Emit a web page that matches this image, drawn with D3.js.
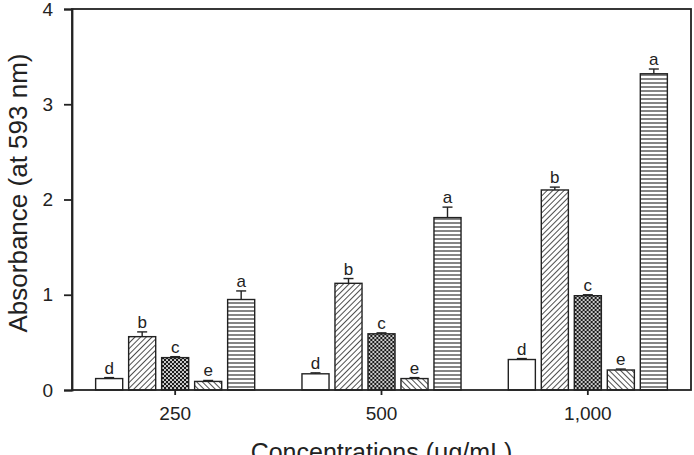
<!DOCTYPE html>
<html lang="en">
<head>
    <meta charset="UTF-8">
    <title>Absorbance</title>
    <script src="https://d3js.org/d3.v7.min.js"></script>
    <style>
        body { margin: 0; padding: 0; background: white; }
        svg { display: block; font-family: 'Liberation Sans', Arial, sans-serif; }
        .axis text { font-size: 19px; fill: #222; }
        .axis path, .axis line { stroke: #222; stroke-width: 1.8; }
        .title { font-size: 25px; fill: #222; }
        .letter { font-size: 17px; fill: #222; }
    </style>
</head>
<body>
    <svg width="694" height="455"></svg>
    <script>
        const concentrations = ["250", "500", "1,000"];
        const series = ["s1", "s2", "s3", "s4", "s5"];
        const values = [
            [0.12, 0.56, 0.34, 0.09, 0.95],
            [0.17, 1.12, 0.59, 0.12, 1.81],
            [0.32, 2.10, 0.99, 0.21, 3.32]
        ];
        const errors = [
            [0.01, 0.05, 0.01, 0.01, 0.09],
            [0.01, 0.05, 0.01, 0.01, 0.11],
            [0.01, 0.03, 0.01, 0.01, 0.05]
        ];
        const letters = [
            ["d", "b", "c", "e", "a"],
            ["d", "b", "c", "e", "a"],
            ["d", "b", "c", "e", "a"]
        ];
        const yTicks = [0, 1, 2, 3, 4];

        const svg = d3.select("svg");
        const margin = { left: 72, top: 9, right: 3, bottom: 65 };
        const width = +svg.attr("width");
        const height = +svg.attr("height");
        const plotW = width - margin.left - margin.right;
        const plotH = height - margin.top - margin.bottom;

        const x = d3.scaleBand().domain(concentrations).range([0, plotW]);
        const xInner = d3.scaleBand().domain(series)
            .range([x.bandwidth() / 2 - 82.5, x.bandwidth() / 2 + 82.5])
            .paddingInner(0.18).paddingOuter(0.09);
        const y = d3.scaleLinear().domain([0, 4]).range([plotH, 0]);

        // fill patterns
        const defs = svg.append("defs");
        const diag = defs.append("pattern").attr("id", "p-fwd")
            .attr("patternUnits", "userSpaceOnUse").attr("width", 4).attr("height", 4)
            .attr("patternTransform", "rotate(45)");
        diag.append("rect").attr("width", 4).attr("height", 4).attr("fill", "white");
        diag.append("line").attr("x1", 0).attr("y1", 0).attr("x2", 0).attr("y2", 4)
            .attr("stroke", "#222").attr("stroke-width", 1.6);

        const back = defs.append("pattern").attr("id", "p-back")
            .attr("patternUnits", "userSpaceOnUse").attr("width", 4).attr("height", 4)
            .attr("patternTransform", "rotate(-45)");
        back.append("rect").attr("width", 4).attr("height", 4).attr("fill", "white");
        back.append("line").attr("x1", 0).attr("y1", 0).attr("x2", 0).attr("y2", 4)
            .attr("stroke", "#222").attr("stroke-width", 1.6);

        const dots = defs.append("pattern").attr("id", "p-dots")
            .attr("patternUnits", "userSpaceOnUse").attr("width", 4).attr("height", 4);
        dots.append("rect").attr("width", 4).attr("height", 4).attr("fill", "#1a1a1a");
        dots.append("circle").attr("cx", 1).attr("cy", 1).attr("r", 1.05).attr("fill", "#e0e0e0");
        dots.append("circle").attr("cx", 3).attr("cy", 3).attr("r", 1.05).attr("fill", "#e0e0e0");

        const horiz = defs.append("pattern").attr("id", "p-horiz")
            .attr("patternUnits", "userSpaceOnUse").attr("width", 4).attr("height", 4);
        horiz.append("rect").attr("width", 4).attr("height", 4).attr("fill", "white");
        horiz.append("line").attr("x1", 0).attr("y1", 2).attr("x2", 4).attr("y2", 2)
            .attr("stroke", "#333").attr("stroke-width", 1.2);

        const fills = { s1: "white", s2: "url(#p-fwd)", s3: "url(#p-dots)", s4: "url(#p-back)", s5: "url(#p-horiz)" };

        const g = svg.append("g").attr("transform", `translate(${margin.left},${margin.top})`);

        const rows = [];
        concentrations.forEach(function(c, i) {
            series.forEach(function(s, j) {
                rows.push({ conc: c, s: s, v: values[i][j], e: errors[i][j], l: letters[i][j] });
            });
        });

        const groups = g.selectAll(".grp")
            .data(rows)
            .enter()
            .append("g")
            .attr("transform", function(d) { return `translate(${x(d.conc)},0)`; });

        // error bars (drawn first so bar covers lower part)
        groups.append("line")
            .attr("x1", function(d) { return xInner(d.s) + xInner.bandwidth() / 2; })
            .attr("x2", function(d) { return xInner(d.s) + xInner.bandwidth() / 2; })
            .attr("y1", function(d) { return y(d.v); })
            .attr("y2", function(d) { return y(d.v + d.e); })
            .attr("stroke", "#222").attr("stroke-width", 1.4);
        groups.append("line")
            .attr("x1", function(d) { return xInner(d.s) + xInner.bandwidth() / 2 - 5; })
            .attr("x2", function(d) { return xInner(d.s) + xInner.bandwidth() / 2 + 5; })
            .attr("y1", function(d) { return y(d.v + d.e); })
            .attr("y2", function(d) { return y(d.v + d.e); })
            .attr("stroke", "#222").attr("stroke-width", 1.4);

        groups.append("rect")
            .attr("x", function(d) { return xInner(d.s); })
            .attr("y", function(d) { return y(d.v); })
            .attr("width", xInner.bandwidth())
            .attr("height", function(d) { return y(0) - y(d.v); })
            .attr("fill", function(d) { return fills[d.s]; })
            .attr("stroke", "#222").attr("stroke-width", 1.4);

        groups.append("text")
            .attr("class", "letter")
            .attr("x", function(d) { return xInner(d.s) + xInner.bandwidth() / 2; })
            .attr("y", function(d) { return y(d.v + d.e) - 4; })
            .attr("text-anchor", "middle")
            .text(function(d) { return d.l; });

        // frame
        g.append("rect")
            .attr("x", 0).attr("y", 0)
            .attr("width", plotW).attr("height", plotH)
            .attr("fill", "none").attr("stroke", "#222").attr("stroke-width", 1.8);

        g.append("g").attr("class", "axis")
            .call(d3.axisLeft(y).tickValues(yTicks).tickSize(8).tickPadding(11).tickFormat(d3.format("d")));

        g.append("g").attr("class", "axis")
            .attr("transform", `translate(0,${plotH})`)
            .call(d3.axisBottom(x).tickSize(5).tickPadding(12))
            .call(function(a) { a.select(".domain").remove(); });

        svg.append("text")
            .attr("class", "title")
            .attr("transform", `translate(27,193) rotate(-90)`)
            .attr("text-anchor", "middle")
            .style("font-size", "26px")
            .text("Absorbance (at 593 nm)");

        svg.append("text")
            .attr("class", "title")
            .attr("x", margin.left + plotW / 2)
            .attr("y", 461)
            .attr("text-anchor", "middle")
            .text("Concentrations (\u03bcg/mL)");
    </script>
</body>
</html>
